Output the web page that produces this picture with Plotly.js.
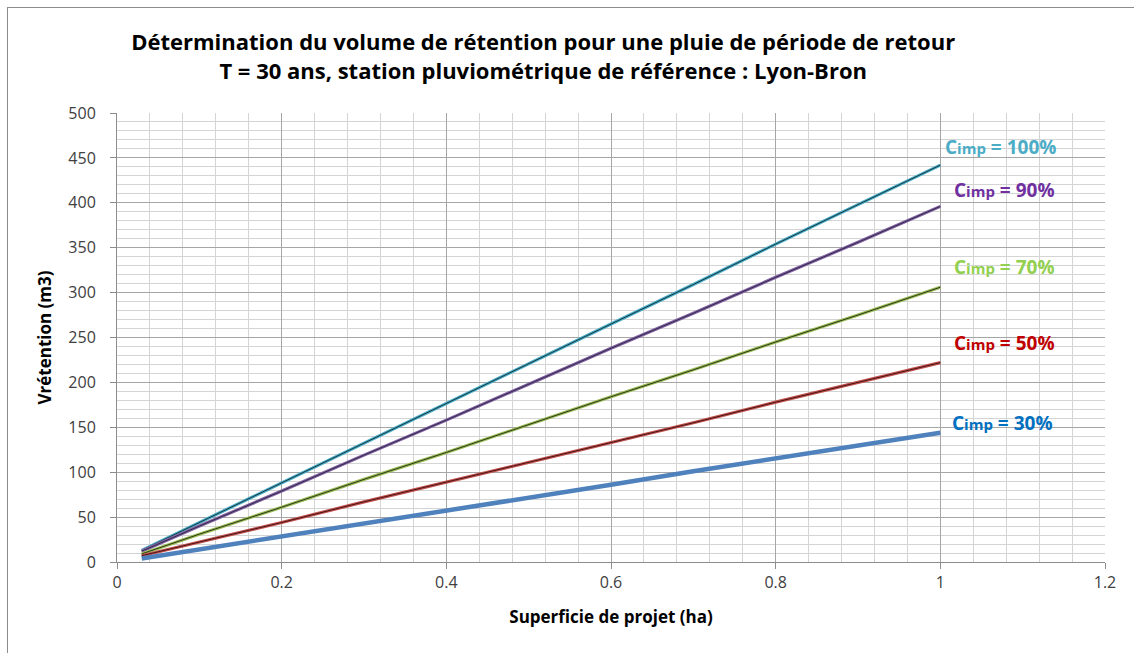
<!DOCTYPE html>
<html>
<head>
<meta charset="utf-8">
<script src="https://cdn.plot.ly/plotly-3.0.1.min.js"></script>
<style>
html,body{margin:0;padding:0;background:#fff;overflow:hidden;}
#wrap{position:relative;width:1134px;height:653px;overflow:hidden;}
#chart{width:1134px;height:653px;}
#frame{position:absolute;left:7px;top:7px;width:1150px;height:660px;border:1.5px solid #8c8c8c;pointer-events:none;box-sizing:border-box;}
</style>
</head>
<body>
<div id="wrap"><div id="chart"></div><div id="frame"></div></div>
<script>
// Superficie de projet (ha)
var surface = [0.03, 0.1, 0.2, 0.3, 0.4, 0.5, 0.6, 0.7, 0.8, 0.9, 1.0];
// Vrétention (m3) per Cimp
var v100 = [13, 44, 88, 133, 177, 221, 265, 309, 354, 398, 442];
var v90  = [12, 40, 79, 119, 158, 198, 238, 277, 317, 356, 396];
var v70  = [9, 31, 61, 92, 122, 153, 184, 214, 245, 275, 306];
var v50  = [7, 22, 44, 67, 89, 111, 133, 155, 178, 200, 222];
var v30  = [4, 14, 29, 43, 58, 72, 86, 101, 115, 130, 144];
var seriesNames = ["Cimp = 100%", "Cimp = 90%", "Cimp = 70%", "Cimp = 50%", "Cimp = 30%"];
var labelText = ["C<span style='font-size:15px'>imp</span> = 100%", "C<span style='font-size:15px'>imp</span> = 90%", "C<span style='font-size:15px'>imp</span> = 70%", "C<span style='font-size:15px'>imp</span> = 50%", "C<span style='font-size:15px'>imp</span> = 30%"];
var labelX = [1.073, 1.078, 1.078, 1.078, 1.076];
var labelY = [462, 414, 328, 244, 155];

var values = [v100, v90, v70, v50, v30];
var lineColors = ["#4BACC6", "#8064A2", "#9BBB59", "#C0504D", "#4F81BD"];
var coreColors = ["#0d2a33", "#2b1d40", "#1f2a0a", "#3a0f0e", null];
var labelColors = ["#4BACC6", "#7030A0", "#92D050", "#C00000", "#0070C0"];
var widths = [3.2, 3.2, 3.2, 3.2, 4.5];

var traces = [];
for (var i = 0; i < values.length; i++) {
  traces.push({x: surface, y: values[i], type: "scatter", mode: "lines", name: seriesNames[i],
    line: {color: lineColors[i], width: widths[i]}, hoverinfo: "x+y+name"});
  if (coreColors[i]) {
    traces.push({x: surface, y: values[i], type: "scatter", mode: "lines", name: seriesNames[i],
      line: {color: coreColors[i], width: 0.9}, hoverinfo: "skip"});
  }
}

var FONT = "'Open Sans', Lato, sans-serif";
var annotations = [];
for (var j = 0; j < labelText.length; j++) {
  annotations.push({x: labelX[j], y: labelY[j], xref: "x", yref: "y", text: labelText[j],
    showarrow: false, font: {family: FONT, size: 19, color: labelColors[j], weight: 700}});
}

var layout = {
  width: 1134, height: 653,
  margin: {l: 117, r: 29, t: 113, b: 91},
  paper_bgcolor: "#fff", plot_bgcolor: "#fff",
  showlegend: false,
  title: {text: "<b>Détermination du volume de rétention pour une pluie de période de retour<br>T = 30 ans, station pluviométrique de référence : Lyon-Bron</b>",
    x: 0.479, xanchor: "center", y: 0.923, yanchor: "middle",
    font: {family: FONT, size: 22, color: "#000"}},
  xaxis: {range: [0, 1.2], dtick: 0.2, tick0: 0, showgrid: true, gridcolor: "#a6a6a6", gridwidth: 1,
    minor: {dtick: 0.04, showgrid: true, gridcolor: "#d4d4d4", gridwidth: 1},
    showline: true, linecolor: "#8c8c8c", linewidth: 1, ticks: "outside", ticklen: 6, tickcolor: "#8c8c8c",
    zeroline: false, mirror: false,
    tickfont: {family: FONT, size: 16, color: "#404040"},
    title: {text: "<b>Superficie de projet (ha)</b>", standoff: 18, font: {family: FONT, size: 17, color: "#000"}}},
  yaxis: {range: [0, 500], dtick: 50, tick0: 0, showgrid: true, gridcolor: "#a6a6a6", gridwidth: 1,
    minor: {dtick: 10, showgrid: true, gridcolor: "#d4d4d4", gridwidth: 1},
    showline: true, linecolor: "#8c8c8c", linewidth: 1, ticks: "outside", ticklen: 6, tickcolor: "#8c8c8c",
    zeroline: false,
    tickfont: {family: FONT, size: 16, color: "#404040"},
    ticklabelstandoff: 11,
    title: {text: "<b>Vrétention (m3)</b>", standoff: 12, font: {family: FONT, size: 17, color: "#000"}}},
  annotations: annotations
};

Plotly.newPlot("chart", traces, layout, {displayModeBar: false, staticPlot: true});
</script>
</body>
</html>
